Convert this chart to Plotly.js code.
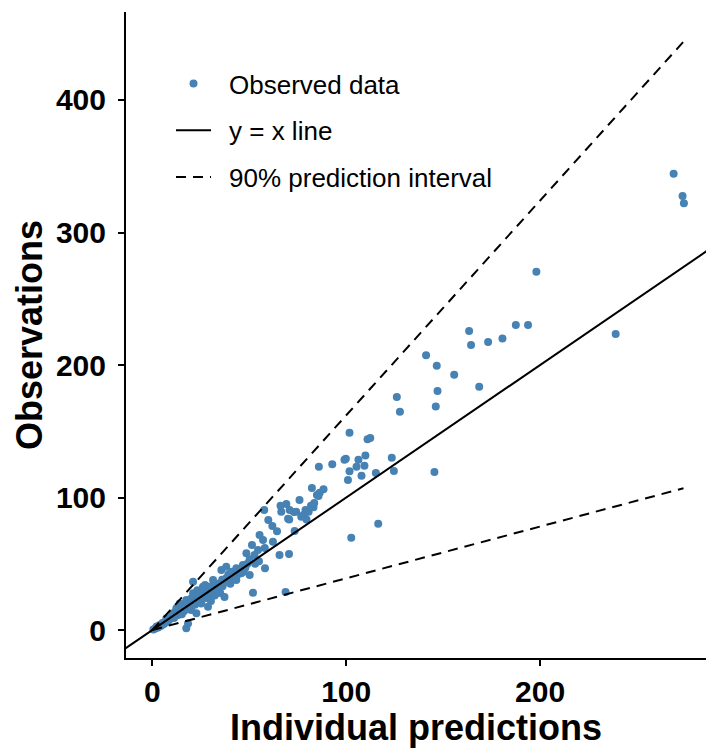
<!DOCTYPE html>
<html><head><meta charset="utf-8">
<script src="https://cdn.plot.ly/plotly-3.0.1.min.js"></script>
<style>html,body{margin:0;padding:0;background:#fff}#chart{width:706px;height:748px}</style>
</head><body><div id="chart"></div>
<script>
// Individual predictions (x) and observations (y)
const predX = [
0.5,1.5,2.2,3.0,3.8,4.6,5.2,6.0,7.2,8.0,9.0,10.0,10.7,11.2,12.0,12.4,13.0,14.0,14.1,15.0,15.2,16.0,16.3,17.0,17.5,17.5,18.4,18.0,19.0,19.2,20.0,20.2,
21.0,21.0,21.3,22.0,22.7,23.0,23.2,24.0,24.4,25.0,25.2,26.0,26.1,27.0,27.2,28.0,28.7,28.7,29.0,29.5,30.0,30.2,31.3,31.0,32.0,32.2,33.0,33.2,34.0,34.7,35.0,35.6,36.0,36.2,37.0,37.2,38.1,38.1,39.0,39.2,40.0,40.2,
41.0,41.2,42.0,43.3,43.3,44.0,45.0,45.9,46.7,47.0,48.5,48.0,49.0,50.2,50.2,51.4,51.9,52.7,53.0,54.5,55.3,55.0,57.1,57.7,58.1,58.0,59.8,
61.9,62.2,64.3,65.6,66.1,66.5,68.7,69.1,70.0,70.5,70.6,70.8,73.0,73.4,74.2,75.9,76.8,78.0,79.0,79.4,79.5,80.6,
81.8,82.3,83.1,83.5,84.9,85.7,85.9,86.3,88.3,92.8,99.1,99.8,100.9,101.7,101.7,102.6,105.3,106.3,107.9,109.4,109.9,111.0,112.4,115.3,116.5,123.5,124.6,126.1,127.7,
141.2,145.5,146.2,146.7,147.1,155.7,163.4,164.4,168.6,173.2,180.6,187.5,193.8,198.1,239.0,268.9,273.5,274.2
];
const obsY = [
0.5,1.2,2.6,2.0,3.8,3.2,5.4,4.6,8.8,6.2,8.2,10.4,12.6,9.0,14.0,16.4,11.2,13.2,20.1,16.0,12.0,18.2,14.2,20.0,22.6,1.3,5.0,16.0,21.0,17.6,15.2,24.0,
36.5,27.7,22.0,19.0,12.6,26.0,30.0,22.0,25.1,28.0,20.0,30.0,32.7,24.0,34.0,27.0,25.1,17.6,31.0,32.7,28.0,22.0,37.7,33.0,30.0,26.0,27.7,35.0,31.0,35.2,28.0,45.3,38.0,33.0,36.0,25.0,39.0,47.8,37.0,42.0,40.0,35.0,
44.0,38.0,40.0,37.7,46.6,42.0,45.0,42.8,49.1,44.0,57.9,47.0,50.0,53.4,41.5,64.2,28.2,56.6,50.0,60.4,71.7,52.0,67.9,90.6,46.6,62.0,83.0,
78.5,66.7,74.5,56.6,93.8,89.3,28.7,95.1,84.0,57.4,83.5,90.6,89.1,74.7,89.3,98.1,85.5,86.8,90.6,89.3,83.5,89.3,
93.8,107.2,92.6,95.8,101.9,101.1,123.3,103.6,106.2,125.1,128.5,129.3,113.2,148.9,119.8,69.7,123.3,128.5,116.5,124.0,131.8,144.0,145.0,118.5,80.2,130.0,120.0,175.8,164.8,
207.3,119.2,168.6,199.5,180.4,192.7,225.7,215.1,183.6,217.4,220.1,230.2,230.2,270.4,223.4,344.4,327.5,322.0
];
// 90% prediction interval bounds (read at the ends of the dashed lines)
const piX = [0, 274];
const piUpper = [0, 444];
const piLower = [0, 107];
// y = x reference line
const identity = [-30, 320];
// axes
const xRange = [-13.6, 285.6];
const yRange = [-21.1, 466.4];
const xTicks = [0, 100, 200];
const yTicks = [0, 100, 200, 300, 400];
const legendNames = ['Observed data', 'y = x line', '90% prediction interval'];

const FONT = 'Liberation Sans, Arial, sans-serif';
const PAD = '\u2002';
const traces = [
  {x: predX, y: obsY, type: 'scatter', mode: 'markers', name: PAD + legendNames[0], legendgroup: 'a',
   marker: {color: '#4682B4', size: 8}},
  {x: identity, y: identity, type: 'scatter', mode: 'lines', name: PAD + legendNames[1], legendgroup: 'b',
   line: {color: '#000', width: 2}},
  {x: piX, y: piUpper, type: 'scatter', mode: 'lines', name: PAD + legendNames[2], legendgroup: 'c',
   line: {color: '#000', width: 2, dash: '10px,7px'}},
  {x: piX, y: piLower, type: 'scatter', mode: 'lines', name: 'lower bound', legendgroup: 'c', showlegend: false,
   line: {color: '#000', width: 2, dash: '10px,7px'}}
];
const axisCommon = {
  showgrid: false, zeroline: false, showline: true, linecolor: '#000', linewidth: 2,
  ticks: 'outside', ticklen: 6, tickwidth: 2, tickcolor: '#000',
  tickfont: {family: FONT, size: 30, color: '#000', weight: 'bold'}
};
const layout = {
  width: 706, height: 748,
  margin: {l: 126, r: 0, t: 12, b: 90},
  paper_bgcolor: '#fff', plot_bgcolor: '#fff',
  showlegend: true,
  legend: {x: 0.0776, y: 0.9257, xanchor: 'left', yanchor: 'top', bgcolor: 'rgba(0,0,0,0)',
    font: {family: FONT, size: 26, color: '#000'}, tracegroupgap: 10, itemwidth: 35},
  xaxis: Object.assign({}, axisCommon, {range: xRange, tickvals: xTicks, ticktext: xTicks.map(String),
    title: {text: 'Individual predictions', font: {family: FONT, size: 36, color: '#000', weight: 'bold'}, standoff: 4}}),
  yaxis: Object.assign({}, axisCommon, {range: yRange, tickvals: yTicks, ticktext: yTicks.map(String), ticklabelstandoff: 6,
    title: {text: 'Observations', font: {family: FONT, size: 36, color: '#000', weight: 'bold'}, standoff: 2}})
};
Plotly.newPlot('chart', traces, layout, {displayModeBar: false, staticPlot: true});
</script>
</body></html>
